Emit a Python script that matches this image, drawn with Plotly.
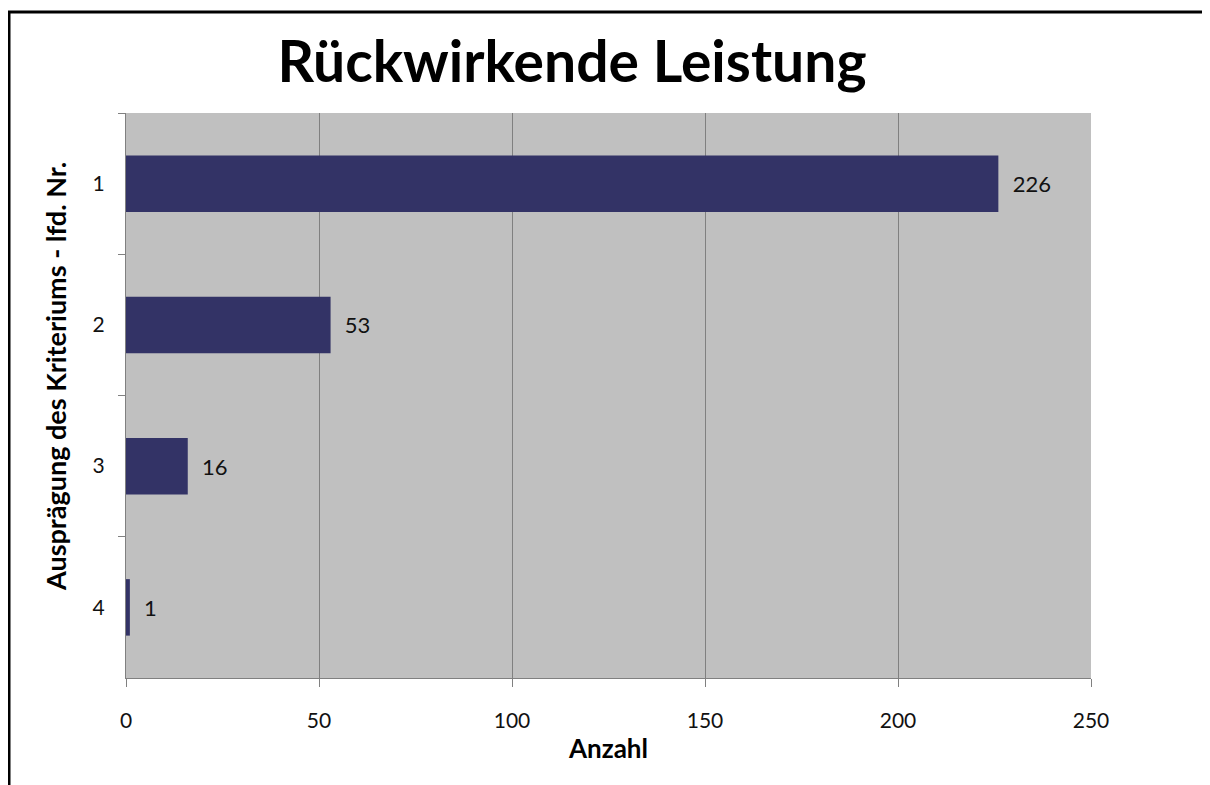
import plotly.graph_objects as go

categories = ["1", "2", "3", "4"]
values = [226, 53, 16, 1]
x_ticks = [0, 50, 100, 150, 200, 250]

title_text = "Rückwirkende Leistung"
x_title = "Anzahl"
y_title = "Ausprägung des Kriteriums - lfd. Nr."

FONT = "Lato"
# page body has an 8px margin, so the figure is drawn 8px right/down
W, H = 1202, 777
L, R, T, B = 118, 119, 105, 107
pw = W - L - R
ph = H - T - B

fig = go.Figure(
    go.Bar(
        x=values,
        y=categories,
        orientation="h",
        marker=dict(color="#333366", line=dict(width=0)),
        text=values,
        texttemplate="  %{x}",
        textposition="outside",
        textfont=dict(family=FONT, size=22, color="#111111"),
        cliponaxis=False,
        width=0.4,
    )
)

fig.update_layout(
    width=W,
    height=H,
    margin=dict(l=L, r=R, t=T, b=B),
    paper_bgcolor="white",
    plot_bgcolor="#c0c0c0",
    showlegend=False,
    title=dict(
        text=title_text,
        x=564 / W,
        xanchor="center",
        y=1 - 54 / H,
        yanchor="middle",
        font=dict(family=FONT, size=57, color="black", weight="bold"),
    ),
    xaxis=dict(
        range=[0, 250],
        tickvals=x_ticks,
        showgrid=True,
        gridcolor="#808080",
        gridwidth=1,
        zeroline=False,
        showline=True,
        linecolor="#808080",
        linewidth=1,
        ticks="outside",
        ticklen=8,
        tickcolor="#808080",
        ticklabelstandoff=16,
        tickfont=dict(family=FONT, size=21, color="#111111"),
        title=dict(
            text=x_title,
            font=dict(family=FONT, size=26, color="black", weight="bold"),
            standoff=8,
        ),
    ),
    yaxis=dict(
        autorange="reversed",
        type="category",
        showgrid=False,
        zeroline=False,
        showline=True,
        linecolor="#808080",
        linewidth=1,
        ticks="outside",
        tickson="boundaries",
        ticklen=7,
        tickcolor="#808080",
        ticklabelstandoff=16,
        tickfont=dict(family=FONT, size=21, color="#111111"),
    ),
    annotations=[
        dict(
            text=y_title,
            xref="paper", yref="paper",
            x=(47 - L) / pw, y=(H - B - 369) / ph,
            xanchor="center", yanchor="middle",
            textangle=-90, showarrow=False,
            font=dict(family=FONT, size=27, color="black", weight="bold"),
        )
    ],
    shapes=[
        dict(
            type="line", xref="paper", yref="paper",
            x0=(0 - L) / pw, x1=(W + 5 - L) / pw,
            y0=(H - B - 4) / ph, y1=(H - B - 4) / ph,
            line=dict(color="black", width=3),
        ),
        dict(
            type="line", xref="paper", yref="paper",
            x0=(1 - L) / pw, x1=(1 - L) / pw,
            y0=(H - B - 4) / ph, y1=(H - B - H - 10) / ph,
            line=dict(color="black", width=3),
        ),
    ],
)

fig.write_html("out.html")
